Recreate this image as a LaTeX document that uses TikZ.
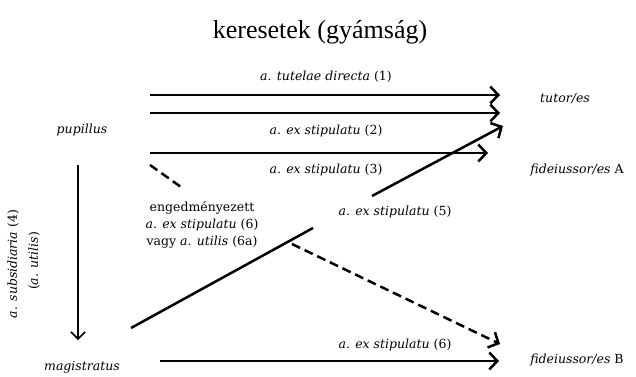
\documentclass[tikz,border=0pt]{standalone}
\usepackage{fontspec}
\setmainfont{DejaVu Serif}
\newfontfamily\titlefont{Liberation Serif}
\usetikzlibrary{arrows.meta}
\tikzset{
  lbl/.style={inner sep=0pt, font=\fontsize{12.5}{15}\selectfont},
  tipbig/.style={-{Straight Barb[length=8pt,width=17pt,line width=2.5pt]}},
  arr/.style={line width=2.5pt, tipbig},
  seg/.style={line width=2.5pt},
  dsh/.style={line width=2.5pt, dash pattern=on 9pt off 5pt},
}
\begin{document}
\begin{tikzpicture}[x=1pt,y=-1pt]
\useasboundingbox (0,0) rectangle (636,376);
\node[inner sep=0pt, font=\titlefont\fontsize{26}{30}\selectfont] (title) at (320,32) {keresetek (gyámság)};
% nodes
\node[lbl] (pupillus) at (82,130) {\itshape pupillus};
\node[lbl] (magistratus) at (82,367) {\itshape magistratus};
\node[lbl] (tutor) at (565,99) {\itshape tutor/es};
\node[lbl] (fidA) at (577,170) {\itshape fideiussor/es\/ \upshape A};
\node[lbl] (fidB) at (577,360) {\itshape fideiussor/es\/ \upshape B};
% labels
\node[lbl] (l1) at (326,77) {\itshape a. tutelae directa\/ \upshape(1)};
\node[lbl] (l2) at (326,131) {\itshape a. ex stipulatu\/ \upshape(2)};
\node[lbl] (l3) at (326,170) {\itshape a. ex stipulatu\/ \upshape(3)};
\node[lbl] (l5) at (395,212) {\itshape a. ex stipulatu\/ \upshape(5)};
\node[lbl] (l6) at (395,345) {\itshape a. ex stipulatu\/ \upshape(6)};
\node[lbl, align=center, font=\fontsize{12.5}{17}\selectfont] (l6a) at (202,225)
  {engedményezett\\ \itshape a. ex stipulatu\/ \upshape(6)\\ vagy \itshape a. utilis\/ \upshape(6a)};
\node[lbl, rotate=90] (l4) at (13,264) {\itshape a. subsidiaria\/ \upshape(4)};
\node[lbl, rotate=90] (l4b) at (34,261) {(\itshape a. utilis\/\upshape)};
% coordinates
\coordinate (a1s) at (150,95); \coordinate (a1e) at (500,95);
\coordinate (a2s) at (150,113); \coordinate (a2e) at (500,113);
\coordinate (a3s) at (150,153); \coordinate (a3e) at (488,153);
\coordinate (vs) at (78,165); \coordinate (ve) at (78,340);
\coordinate (d1s) at (150,165); \coordinate (d1e) at (181,187);
\coordinate (d2s) at (292,244); \coordinate (d2e) at (500,344);
\coordinate (s1s) at (131,328); \coordinate (s1e) at (313,228);
\coordinate (s2s) at (372,196); \coordinate (s2e) at (503,126);
\coordinate (bs) at (160,361); \coordinate (be) at (499,361);
% connectors
\draw[arr] (a1s) -- (a1e);
\draw[arr] (a2s) -- (a2e);
\draw[arr] (a3s) -- (a3e);
\draw[line width=1.6pt, -{Straight Barb[length=7pt,width=14pt,line width=1.6pt]}] (vs) -- (ve);
\draw[dsh] (d1s) -- (d1e);
\draw[dsh, tipbig] (d2s) -- (d2e);
\draw[seg] (s1s) -- (s1e);
\draw[arr] (s2s) -- (s2e);
\draw[arr] (bs) -- (be);
\end{tikzpicture}
\end{document}
